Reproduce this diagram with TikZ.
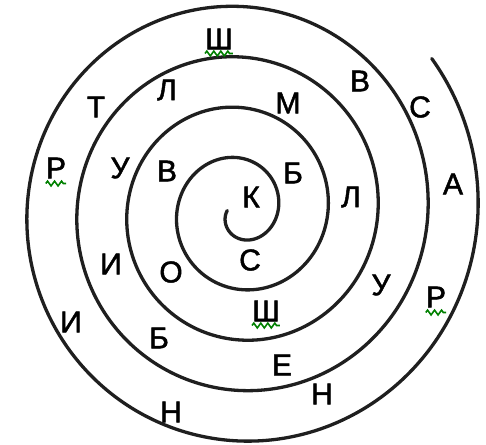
\documentclass[tikz,border=0pt]{standalone}
\usepackage{fontspec}
\setmainfont{Liberation Sans}
\newfontfamily\letterfont[FakeBold=1.6]{Liberation Sans}
\usetikzlibrary{decorations.pathmorphing}
\begin{document}
\begin{tikzpicture}[x=1pt,y=1pt,
  spiralline/.style={line width=3.3pt, color=black!88, line cap=round},
  letter/.style={inner sep=0pt, font=\letterfont\fontsize{30}{30}\selectfont, text=black},
  squiggle/.style={draw=green!50!black, line width=1.6pt, decorate,
    decoration={zigzag, segment length=7pt, amplitude=2.4pt}}]
\useasboundingbox (0,0) rectangle (486,444);
\draw[spiralline] plot[domain=-182:1478, samples=900, smooth, variable=\t]
  ({240+(38+0.1389*\t)*cos(\t)}, {232.9+(40.5+0.1403*\t)*sin(\t)});
% letters (x, 444 - y_screen)
\node[letter] (sh1) at (219,405) {Ш};
\node[letter] (v1)  at (360,363) {В};
\node[letter] (s1)  at (420,337) {С};
\node[letter] (a1)  at (453,260) {А};
\node[letter] (r1)  at (436,147) {Р};
\node[letter] (n1)  at (322,50)  {Н};
\node[letter] (n2)  at (171,32)  {Н};
\node[letter] (i1)  at (71,122)  {И};
\node[letter] (r2)  at (56,276)  {Р};
\node[letter] (t1)  at (96,337)  {Т};
\node[letter] (l1)  at (167,354) {Л};
\node[letter] (m1)  at (288,341) {М};
\node[letter] (u1)  at (120,276) {У};
\node[letter] (v2)  at (167,273) {В};
\node[letter] (b1)  at (293,271) {Б};
\node[letter] (k1)  at (251,247) {К};
\node[letter] (l2)  at (351,247) {Л};
\node[letter] (i2)  at (111,180) {И};
\node[letter] (o1)  at (171,172) {О};
\node[letter] (s2)  at (250,184) {С};
\node[letter] (u2)  at (381,159) {У};
\node[letter] (sh2) at (266,133) {Ш};
\node[letter] (b2)  at (159,106) {Б};
\node[letter] (e1)  at (282,79)  {Е};
% spell-check squiggles
\draw[squiggle] ([yshift=-4pt]sh1.south west) -- ([yshift=-4pt]sh1.south east);
\draw[squiggle] ([yshift=-4pt]sh2.south west) -- ([yshift=-4pt]sh2.south east);
\draw[squiggle] ([yshift=-5pt]r1.south west) -- ([yshift=-5pt]r1.south east);
\draw[squiggle] ([yshift=-5pt]r2.south west) -- ([yshift=-5pt]r2.south east);
\end{tikzpicture}
\end{document}
